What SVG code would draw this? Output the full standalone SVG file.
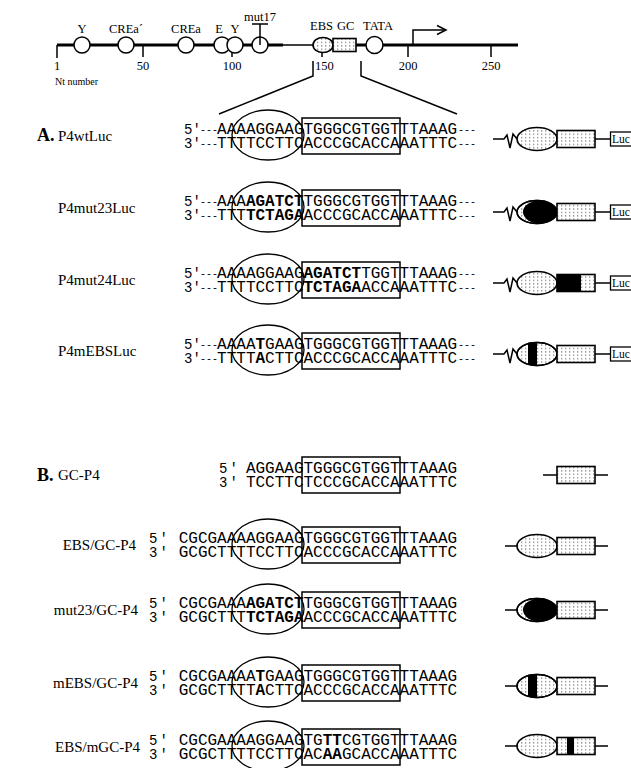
<svg xmlns="http://www.w3.org/2000/svg" width="631" height="768" viewBox="0 0 631 768">
<defs>
<pattern id="dots" width="4" height="3.4" patternUnits="userSpaceOnUse">
<rect width="4" height="3.4" fill="#fff"/>
<rect x="1" y="1" width="1.3" height="1.3" fill="#888"/>
</pattern>
<clipPath id="cA4"><ellipse cx="537" cy="354" rx="20" ry="11.5"/></clipPath>
<clipPath id="cB4"><ellipse cx="537" cy="686" rx="20" ry="11.5"/></clipPath>
<clipPath id="cA2"><ellipse cx="537" cy="212" rx="20" ry="11.5"/></clipPath>
<clipPath id="cB3"><ellipse cx="537" cy="610" rx="20" ry="11.5"/></clipPath>
</defs>
<style>
.seq{font-family:"Liberation Mono",monospace;font-size:16px;fill:#000}
.pre{font-family:"Liberation Mono",monospace;font-size:14px}
.dash{font-family:"Liberation Mono",monospace;font-size:10px}
.lab{font-family:"Liberation Serif",serif;font-size:15px}
.end{text-anchor:end}
.hd{font-family:"Liberation Serif",serif;font-size:18px;font-weight:bold}
.map{font-family:"Liberation Serif",serif;font-size:12.5px}
.sm{font-family:"Liberation Serif",serif;font-size:10px}
.lt{font-family:"Liberation Serif",serif;font-size:11.5px}
.b{font-weight:bold}
.box{fill:none;stroke:#000;stroke-width:1.5}
.ell{fill:none;stroke:#000;stroke-width:1.3}
.dot{fill:url(#dots);stroke:#000;stroke-width:1.6}
.blk{fill:#000}
.ln{stroke:#000;stroke-width:1.5;fill:none}
.thick{stroke:#000;stroke-width:3;fill:none}
.circ{fill:#fff;stroke:#000;stroke-width:1.5}
.luc{fill:#fff;stroke:#000;stroke-width:1.3}
</style>

<g id="map">
<path class="thick" d="M57,45 H283 M356,45 H518"/>
<path class="ln" d="M283,45 H313"/>
<path class="ln" d="M57,45 V58 M143,45 V57 M232,45 V57 M322,50 V57 M408,45 V57 M491,45 V57"/>
<circle class="circ" cx="82" cy="45" r="8"/>
<circle class="circ" cx="126" cy="45" r="8"/>
<circle class="circ" cx="186" cy="45" r="8"/>
<circle class="circ" cx="222" cy="45" r="8"/>
<circle class="circ" cx="235" cy="45" r="8"/>
<circle class="circ" cx="260" cy="45" r="8"/>
<path class="ln" d="M260,45 V24 M252,24 H268"/>
<ellipse class="dot" cx="323" cy="45" rx="10" ry="7.5"/>
<rect class="dot" x="333" y="38.5" width="23" height="13"/>
<circle class="circ" cx="374.5" cy="45" r="8.5"/>
<path class="ln" d="M413,45 V30 H444"/>
<path class="ln" d="M437,25.5 L446,30 L437,34.5"/>
<g class="map">
<text x="82" y="33" text-anchor="middle">Y</text>
<text x="126" y="33" text-anchor="middle">CREa´</text>
<text x="186" y="33" text-anchor="middle">CREa</text>
<text x="219" y="33" text-anchor="middle">E</text>
<text x="235" y="33" text-anchor="middle">Y</text>
<text x="260" y="21" text-anchor="middle">mut17</text>
<text x="310" y="30">EBS</text>
<text x="337" y="30">GC</text>
<text x="363" y="30">TATA</text>
<text x="57" y="70" text-anchor="middle">1</text>
<text x="143" y="70" text-anchor="middle">50</text>
<text x="232" y="70" text-anchor="middle">100</text>
<text x="315" y="70">150</text>
<text x="408" y="70" text-anchor="middle">200</text>
<text x="491" y="70" text-anchor="middle">250</text>
</g>
<text class="sm" x="55" y="85">Nt number</text>
</g>

<g id="connectors">
<polyline class="ln" points="313,61 313,76 219,114"/>
<polyline class="ln" points="361,61 361,76 457,114"/>
</g>

<text class="hd" x="37" y="141">A.</text>
<text class="hd" x="37" y="481">B.</text>

<g id="P4wtLuc">
<text class="lab" x="58" y="141">P4wtLuc</text>
<ellipse class="ell" cx="268" cy="135" rx="36" ry="25"/>
<rect class="box" x="302" y="118" width="98" height="36"/>
<text class="pre" x="184" y="134">5′</text><text class="dash" x="200" y="133">---</text>
<text class="pre" x="184" y="148">3′</text><text class="dash" x="200" y="147">---</text>
<text class="seq" x="217.1" y="134">AAAAGGAAGTGGGCGTGGTTTAAAG</text>
<text class="seq" x="217.1" y="148">TTTTCCTTCACCCGCACCAAATTTC</text>
<text class="dash" x="458" y="133">---</text><text class="dash" x="458" y="147">---</text>
<polyline class="ln" points="493,139 504,139 507,135 510,148 513,134 517,139"/>
<ellipse class="dot" cx="537" cy="139" rx="20" ry="11.5"/>
<rect class="dot" x="557" y="130.5" width="38" height="17"/>
<path class="ln" d="M595,139 H610"/>
<rect class="luc" x="610.5" y="132" width="40" height="14"/>
<text class="lt" x="612" y="143">Luc</text>
</g>

<g id="P4mut23Luc">
<text class="lab" x="58" y="213">P4mut23Luc</text>
<ellipse class="ell" cx="268" cy="207" rx="36" ry="25"/>
<rect class="box" x="302" y="190" width="98" height="36"/>
<text class="pre" x="184" y="206">5′</text><text class="dash" x="200" y="205">---</text>
<text class="pre" x="184" y="220">3′</text><text class="dash" x="200" y="219">---</text>
<text class="seq" x="217.1" y="206">AAA<tspan class="b">AGATCT</tspan>TGGGCGTGGTTTAAAG</text>
<text class="seq" x="217.1" y="220">TTT<tspan class="b">TCTAGA</tspan>ACCCGCACCAAATTTC</text>
<text class="dash" x="458" y="205">---</text><text class="dash" x="458" y="219">---</text>
<polyline class="ln" points="493,212 504,212 507,208 510,221 513,207 517,212"/>
<ellipse class="dot" cx="537" cy="212" rx="20" ry="11.5"/>
<ellipse class="blk" cx="540" cy="212" rx="17" ry="11.5" clip-path="url(#cA2)"/>
<ellipse class="ell" cx="537" cy="212" rx="20" ry="11.5" stroke-width="1.6"/>
<rect class="dot" x="557" y="203.5" width="38" height="17"/>
<path class="ln" d="M595,212 H610"/>
<rect class="luc" x="610.5" y="205" width="40" height="14"/>
<text class="lt" x="612" y="216">Luc</text>
</g>

<g id="P4mut24Luc">
<text class="lab" x="58" y="285">P4mut24Luc</text>
<ellipse class="ell" cx="268" cy="279" rx="36" ry="25"/>
<rect class="box" x="302" y="262" width="98" height="36"/>
<text class="pre" x="184" y="278">5′</text><text class="dash" x="200" y="277">---</text>
<text class="pre" x="184" y="292">3′</text><text class="dash" x="200" y="291">---</text>
<text class="seq" x="217.1" y="278">AAAAGGAAG<tspan class="b">AGATCT</tspan>TGGTTTAAAG</text>
<text class="seq" x="217.1" y="292">TTTTCCTTC<tspan class="b">TCTAGA</tspan>ACCAAATTTC</text>
<text class="dash" x="458" y="277">---</text><text class="dash" x="458" y="291">---</text>
<polyline class="ln" points="493,283 504,283 507,279 510,292 513,278 517,283"/>
<ellipse class="dot" cx="537" cy="283" rx="20" ry="11.5"/>
<rect class="dot" x="557" y="274.5" width="38" height="17"/>
<rect class="blk" x="557" y="274.5" width="24" height="17"/>
<path class="ln" d="M595,283 H610"/>
<rect class="luc" x="610.5" y="276" width="40" height="14"/>
<text class="lt" x="612" y="287">Luc</text>
</g>

<g id="P4mEBSLuc">
<text class="lab" x="58" y="356">P4mEBSLuc</text>
<ellipse class="ell" cx="268" cy="350" rx="36" ry="25"/>
<rect class="box" x="302" y="333" width="98" height="36"/>
<text class="pre" x="184" y="349">5′</text><text class="dash" x="200" y="348">---</text>
<text class="pre" x="184" y="363">3′</text><text class="dash" x="200" y="362">---</text>
<text class="seq" x="217.1" y="349">AAAA<tspan class="b">T</tspan>GAAGTGGGCGTGGTTTAAAG</text>
<text class="seq" x="217.1" y="363">TTTT<tspan class="b">A</tspan>CTTCACCCGCACCAAATTTC</text>
<text class="dash" x="458" y="348">---</text><text class="dash" x="458" y="362">---</text>
<polyline class="ln" points="493,354 504,354 507,350 510,363 513,349 517,354"/>
<ellipse class="dot" cx="537" cy="354" rx="20" ry="11.5"/>
<rect class="blk" x="528" y="340" width="9" height="28" clip-path="url(#cA4)"/>
<ellipse class="ell" cx="537" cy="354" rx="20" ry="11.5" stroke-width="1.6"/>
<rect class="dot" x="557" y="345.5" width="38" height="17"/>
<path class="ln" d="M595,354 H610"/>
<rect class="luc" x="610.5" y="347" width="40" height="14"/>
<text class="lt" x="612" y="358">Luc</text>
</g>

<g id="GC-P4">
<text class="lab" x="58" y="480">GC-P4</text>
<rect class="box" x="302" y="457" width="98" height="36"/>
<text class="pre" x="219" y="473">5<tspan dx="2">′</tspan></text>
<text class="pre" x="219" y="487">3<tspan dx="2">′</tspan></text>
<text class="seq" x="245.9" y="473">AGGAAGTGGGCGTGGTTTAAAG</text>
<text class="seq" x="245.9" y="487">TCCTTCTCCCGCACCAAATTTC</text>
<path class="ln" d="M543,475 H557 M595,475 H608"/>
<rect class="dot" x="557" y="466.5" width="38" height="17"/>
</g>

<g id="EBS-GC-P4">
<text class="lab end" x="136" y="550">EBS/GC-P4</text>
<ellipse class="ell" cx="268" cy="544" rx="36" ry="25"/>
<rect class="box" x="302" y="527" width="98" height="36"/>
<text class="pre" x="149" y="543">5<tspan dx="2">′</tspan></text>
<text class="pre" x="149" y="557">3<tspan dx="2">′</tspan></text>
<text class="seq" x="178.7" y="543">CGCGAAAAGGAAGTGGGCGTGGTTTAAAG</text>
<text class="seq" x="178.7" y="557">GCGCTTTTCCTTCACCCGCACCAAATTTC</text>
<path class="ln" d="M505,546 H517 M595,546 H608"/>
<ellipse class="dot" cx="537" cy="546" rx="20" ry="11.5"/>
<rect class="dot" x="557" y="537.5" width="38" height="17"/>
</g>

<g id="mut23-GC-P4">
<text class="lab end" x="138" y="615">mut23/GC-P4</text>
<ellipse class="ell" cx="268" cy="609" rx="36" ry="25"/>
<rect class="box" x="302" y="592" width="98" height="36"/>
<text class="pre" x="149" y="608">5<tspan dx="2">′</tspan></text>
<text class="pre" x="149" y="622">3<tspan dx="2">′</tspan></text>
<text class="seq" x="178.7" y="608">CGCGAAA<tspan class="b">AGATCT</tspan>TGGGCGTGGTTTAAAG</text>
<text class="seq" x="178.7" y="622">GCGCTTT<tspan class="b">TCTAGA</tspan>ACCCGCACCAAATTTC</text>
<path class="ln" d="M505,610 H517 M595,610 H608"/>
<ellipse class="dot" cx="537" cy="610" rx="20" ry="11.5"/>
<ellipse class="blk" cx="540" cy="610" rx="17" ry="11.5" clip-path="url(#cB3)"/>
<ellipse class="ell" cx="537" cy="610" rx="20" ry="11.5" stroke-width="1.6"/>
<rect class="dot" x="557" y="601.5" width="38" height="17"/>
</g>

<g id="mEBS-GC-P4">
<text class="lab end" x="138" y="688">mEBS/GC-P4</text>
<ellipse class="ell" cx="268" cy="682" rx="36" ry="25"/>
<rect class="box" x="302" y="665" width="98" height="36"/>
<text class="pre" x="149" y="681">5<tspan dx="2">′</tspan></text>
<text class="pre" x="149" y="695">3<tspan dx="2">′</tspan></text>
<text class="seq" x="178.7" y="681">CGCGAAAA<tspan class="b">T</tspan>GAAGTGGGCGTGGTTTAAAG</text>
<text class="seq" x="178.7" y="695">GCGCTTTT<tspan class="b">A</tspan>CTTCACCCGCACCAAATTTC</text>
<path class="ln" d="M505,686 H517 M595,686 H608"/>
<ellipse class="dot" cx="537" cy="686" rx="20" ry="11.5"/>
<rect class="blk" x="528" y="672" width="9" height="28" clip-path="url(#cB4)"/>
<ellipse class="ell" cx="537" cy="686" rx="20" ry="11.5" stroke-width="1.6"/>
<rect class="dot" x="557" y="677.5" width="38" height="17"/>
</g>

<g id="EBS-mGC-P4">
<text class="lab end" x="140" y="752">EBS/mGC-P4</text>
<ellipse class="ell" cx="268" cy="746" rx="36" ry="25"/>
<rect class="box" x="302" y="729" width="98" height="36"/>
<text class="pre" x="149" y="745">5<tspan dx="2">′</tspan></text>
<text class="pre" x="149" y="759">3<tspan dx="2">′</tspan></text>
<text class="seq" x="178.7" y="745">CGCGAAAAGGAAGTG<tspan class="b">TT</tspan>CGTGGTTTAAAG</text>
<text class="seq" x="178.7" y="759">GCGCTTTTCCTTCAC<tspan class="b">AA</tspan>GCACCAAATTTC</text>
<path class="ln" d="M505,746 H517 M595,746 H608"/>
<ellipse class="dot" cx="537" cy="746" rx="20" ry="11.5"/>
<rect class="dot" x="557" y="737.5" width="38" height="17"/>
<rect class="blk" x="567" y="737.5" width="7" height="17"/>
</g>
</svg>
